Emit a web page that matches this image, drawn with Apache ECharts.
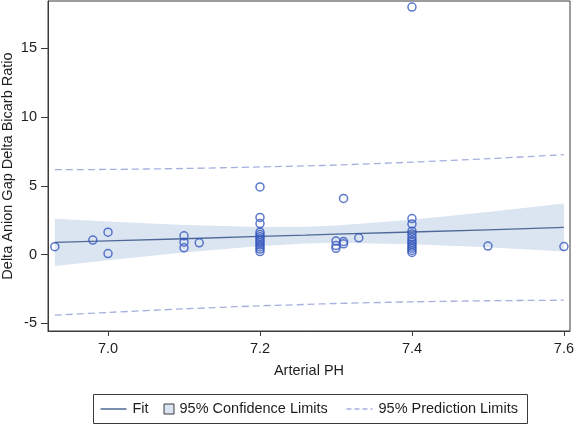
<!DOCTYPE html>
<html>
<head>
<meta charset="utf-8">
<script src="https://cdn.jsdelivr.net/npm/echarts@6/dist/echarts.min.js"></script>
<style>
html,body{margin:0;padding:0;background:#fff;}
#chart{width:574px;height:424px;}
</style>
</head>
<body>
<div id="chart"></div>
<script>
// Observations
var ptX = [6.93, 6.98, 7.00, 7.00, 7.10, 7.10, 7.10, 7.12,
  7.2, 7.2, 7.2, 7.2, 7.2, 7.2, 7.2, 7.2, 7.2, 7.2, 7.2, 7.2, 7.2,
  7.30, 7.30, 7.30, 7.31, 7.31, 7.31, 7.33,
  7.4, 7.4, 7.4, 7.4, 7.4, 7.4, 7.4, 7.4, 7.4, 7.4, 7.4, 7.4, 7.4,
  7.50, 7.60];
var ptY = [0.57, 1.05, 1.63, 0.07, 1.36, 0.90, 0.49, 0.85,
  4.92, 2.70, 2.25, 1.63, 1.45, 1.30, 1.15, 1.00, 0.85, 0.70, 0.55, 0.40, 0.22,
  0.98, 0.65, 0.45, 4.08, 0.95, 0.78, 1.22,
  18.0, 2.62, 2.22, 1.70, 1.50, 1.25, 1.05, 0.90, 0.75, 0.60, 0.45, 0.30, 0.15,
  0.62, 0.58];

// Fit, confidence and prediction limits
var bandX   = [6.93, 7.0, 7.1, 7.2, 7.26, 7.3, 7.4, 7.5, 7.6];
var fitY    = [0.88, 0.99, 1.15, 1.32, 1.41, 1.48, 1.64, 1.80, 1.97];
var clUpper = [2.60, 2.40, 2.15, 2.00, 2.02, 2.11, 2.53, 3.09, 3.72];
var clLower = [-0.84, -0.42, 0.15, 0.63, 0.80, 0.85, 0.75, 0.53, 0.22];
var plUpper = [6.17, 6.19, 6.26, 6.37, 6.45, 6.51, 6.72, 6.97, 7.26];
var plLower = [-4.41, -4.21, -3.95, -3.73, -3.63, -3.56, -3.44, -3.36, -3.32];

// Tick labels
var xTicks = [7.0, 7.2, 7.4, 7.6];
var yTicks = [-5, 0, 5, 10, 15];

var FONT = "'Liberation Sans', Arial, Helvetica, sans-serif";
var TXT = '#1e1e1e';
var FS = 14.5;

function pairs(xs, ys){ return xs.map(function(x,i){ return [x, ys[i]]; }); }

var bandData = bandX.map(function(x,i){ return [x, clLower[i], clUpper[i]]; });

var chart = echarts.init(document.getElementById('chart'), null, {renderer:'canvas'});
chart.setOption({
  animation: false,
  backgroundColor: '#fff',
  grid: { left: 48, top: 1, right: 4, bottom: 93, show: true, borderColor: '#3a3a3a', borderWidth: 1,
    containLabel: false, outerBoundsMode: 'none' },
  xAxis: {
    type: 'value', min: 6.921, max: 7.608,
    name: 'Arterial PH', nameLocation: 'middle', nameGap: 32, nameMoveOverlap: false,
    nameTextStyle: { fontFamily: FONT, fontSize: FS, color: TXT },
    axisLine: { show: true, onZero: false, lineStyle: { color: '#3a3a3a', width: 1 } },
    axisTick: { show: true, length: 5, customValues: xTicks, lineStyle: { color: '#3a3a3a' } },
    axisLabel: { customValues: xTicks, margin: 10, fontFamily: FONT, fontSize: FS, color: TXT,
      formatter: function(v){ return v.toFixed(1); } },
    splitLine: { show: false }
  },
  yAxis: {
    type: 'value', min: -5.56, max: 18.44,
    name: 'Delta Anion Gap Delta Bicarb Ratio', nameLocation: 'middle', nameGap: 33, nameMoveOverlap: false,
    nameTextStyle: { fontFamily: FONT, fontSize: FS, color: TXT },
    axisLine: { show: true, onZero: false, lineStyle: { color: '#3a3a3a', width: 1 } },
    axisTick: { show: true, length: 7, customValues: yTicks, lineStyle: { color: '#3a3a3a' } },
    axisLabel: { customValues: yTicks, margin: 11, fontFamily: FONT, fontSize: FS, color: TXT,
      formatter: function(v){ return String(v); } },
    splitLine: { show: false }
  },
  series: [
    {
      name: '95% Confidence Limits', type: 'custom', data: bandData, z: 1,
      renderItem: function(params, api){
        if (params.dataIndex !== 0) return null;
        var up = [], lo = [];
        for (var i = 0; i < bandData.length; i++) {
          up.push(api.coord([bandData[i][0], bandData[i][2]]));
          lo.push(api.coord([bandData[i][0], bandData[i][1]]));
        }
        var pts = up.concat(lo.reverse());
        return { type: 'polygon', shape: { points: pts }, style: { fill: '#dbe4f1', stroke: null } };
      },
      encode: { x: 0, y: [1,2] }, silent: true
    },
    { name: 'Fit', type: 'line', data: pairs(bandX, fitY), showSymbol: false, z: 3,
      lineStyle: { color: '#4e6996', width: 1.3 }, smooth: false },
    { name: 'Upper PL', type: 'line', data: pairs(bandX, plUpper), showSymbol: false, smooth: 0.3, z: 3,
      lineStyle: { color: '#a4b0de', width: 1.3, type: [7,4] } },
    { name: 'Lower PL', type: 'line', data: pairs(bandX, plLower), showSymbol: false, smooth: 0.3, z: 3,
      lineStyle: { color: '#a4b0de', width: 1.3, type: [7,4] } },
    { name: 'Obs', type: 'scatter', data: pairs(ptX, ptY), symbol: 'circle', symbolSize: 8, z: 4,
      itemStyle: { color: 'rgba(0,0,0,0)', borderColor: '#3558bd', borderWidth: 1.5 } }
  ],
  graphic: [
    { type: 'group', left: 93, top: 394, children: [
      { type: 'rect', shape: { x: 0, y: 0, width: 434, height: 29 }, style: { fill: '#fff', stroke: '#3a3a3a', lineWidth: 1 } },
      { type: 'line', shape: { x1: 7, y1: 14.5, x2: 33, y2: 14.5 }, style: { stroke: '#4e6996', lineWidth: 1.5 } },
      { type: 'text', x: 39, y: 14.5, style: { text: 'Fit', font: FS + 'px ' + FONT, fill: TXT, verticalAlign: 'middle' } },
      { type: 'rect', shape: { x: 70.5, y: 9.5, width: 10, height: 10 }, style: { fill: '#dbe4f1', stroke: '#3a3a3a', lineWidth: 1 } },
      { type: 'text', x: 86, y: 14.5, style: { text: '95% Confidence Limits', font: FS + 'px ' + FONT, fill: TXT, verticalAlign: 'middle' } },
      { type: 'line', shape: { x1: 253, y1: 14.5, x2: 279, y2: 14.5 }, style: { stroke: '#a4b0de', lineWidth: 1.5, lineDash: [5,3] } },
      { type: 'text', x: 285, y: 14.5, style: { text: '95% Prediction Limits', font: FS + 'px ' + FONT, fill: TXT, verticalAlign: 'middle' } }
    ]}
  ]
});
</script>
</body>
</html>
